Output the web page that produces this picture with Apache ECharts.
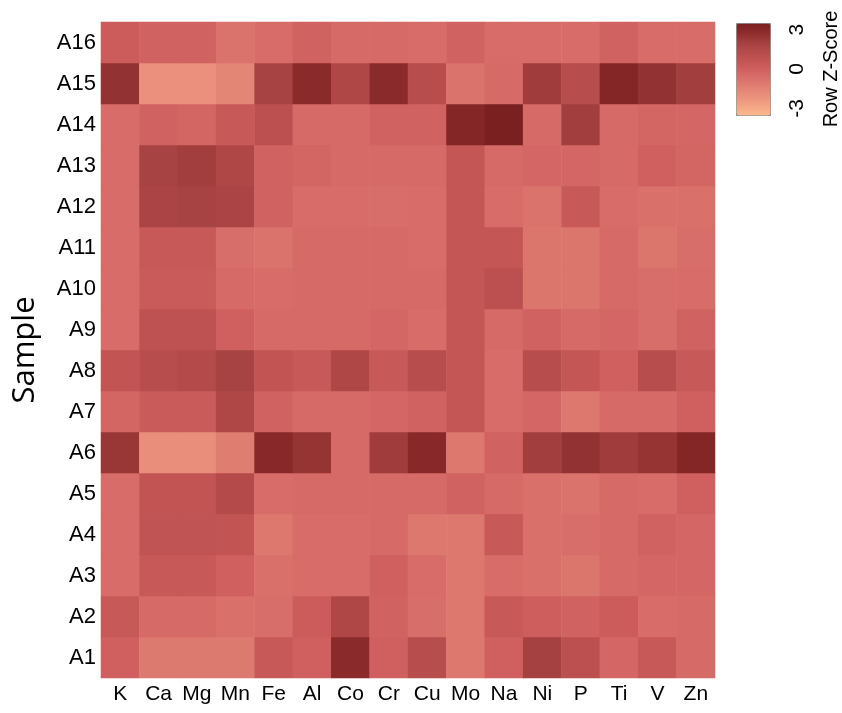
<!DOCTYPE html>
<html><head><meta charset="utf-8">
<script src="https://cdn.jsdelivr.net/npm/echarts@6/dist/echarts.min.js"></script>
<style>html,body{margin:0;padding:0;background:#fff}#c{width:842px;height:713px}</style>
</head><body><div id="c"></div>
<script>
const elements = ['K','Ca','Mg','Mn','Fe','Al','Co','Cr','Cu','Mo','Na','Ni','P','Ti','V','Zn'];
const samples = ['A1','A2','A3','A4','A5','A6','A7','A8','A9','A10','A11','A12','A13','A14','A15','A16'];
const zA1  = [0.0,-1.1,-1.1,-1.1,0.4,0.0,2.9,0.0,1.2,-1.0,0.0,2.0,1.0,-0.3,0.4,-0.4];
const zA2  = [0.4,-0.4,-0.4,-0.7,-0.6,0.2,1.6,-0.1,-0.6,-1.0,0.4,0.1,-0.1,0.2,-0.5,-0.4];
const zA3  = [-0.5,0.4,0.4,0.0,-0.7,-0.5,-0.5,0.0,-0.5,-1.0,-0.5,-0.7,-0.9,-0.4,-0.3,-0.3];
const zA4  = [-0.5,0.8,0.8,0.7,-1.0,-0.5,-0.5,-0.4,-1.0,-1.0,0.4,-0.7,-0.6,-0.4,-0.1,-0.3];
const zA5  = [-0.5,0.7,0.7,1.4,-0.5,-0.4,-0.4,-0.4,-0.4,-0.1,-0.4,-0.7,-0.8,-0.4,-0.5,0.0];
const zA6  = [2.4,-1.9,-1.9,-1.2,3.0,2.5,-0.4,2.2,3.0,-1.0,-0.1,2.1,2.6,2.2,2.5,3.1];
const zA7  = [-0.2,0.3,0.3,1.6,-0.1,-0.4,-0.4,-0.3,-0.1,0.6,-0.5,-0.3,-1.0,-0.4,-0.4,0.0];
const zA8  = [0.7,1.2,1.4,1.9,0.7,0.4,1.6,0.4,1.2,0.6,-0.5,1.2,0.6,0.0,1.2,0.4];
const zA9  = [-0.5,0.9,0.9,0.0,-0.4,-0.4,-0.4,-0.3,-0.5,0.6,-0.4,-0.1,-0.4,-0.3,-0.6,-0.1];
const zA10 = [-0.5,0.3,0.3,-0.4,-0.5,-0.4,-0.4,-0.4,-0.4,0.6,1.0,-0.9,-0.9,-0.4,-0.6,-0.5];
const zA11 = [-0.5,0.4,0.4,-0.6,-0.8,-0.4,-0.4,-0.4,-0.5,0.6,0.6,-0.9,-0.9,-0.4,-0.9,-0.6];
const zA12 = [-0.5,1.8,1.9,1.8,-0.1,-0.5,-0.5,-0.6,-0.5,0.6,-0.5,-0.8,0.4,-0.5,-0.7,-0.7];
const zA13 = [-0.5,1.9,2.1,1.6,-0.1,-0.2,-0.4,-0.4,-0.4,0.6,-0.4,-0.3,-0.3,-0.4,0.0,-0.2];
const zA14 = [-0.5,-0.1,-0.2,0.4,1.0,-0.4,-0.4,-0.1,-0.1,3.1,3.5,-0.4,2.1,-0.4,-0.2,-0.3];
const zA15 = [2.6,-2.0,-2.0,-1.6,1.9,2.9,1.6,2.9,1.2,-0.8,-0.4,2.2,1.2,3.1,2.6,2.1];
const zA16 = [0.2,-0.1,-0.1,-0.8,-0.5,-0.1,-0.4,-0.4,-0.5,-0.1,-0.5,-0.5,-0.5,-0.1,-0.5,-0.5];
const legendTicks = [-3,-2,-1,0,1,2,3];
const legendLabels = [-3,0,3];

const rowsZ = [zA1,zA2,zA3,zA4,zA5,zA6,zA7,zA8,zA9,zA10,zA11,zA12,zA13,zA14,zA15,zA16];
const data = [];
rowsZ.forEach((row, r) => row.forEach((v, c) => data.push([c, r, v])));

const palette = ['#fcb990','#f6aa87','#f09c81','#ea907c','#e38475','#dc786e','#d76c68','#d06060',
  '#c65757','#bc5050','#b24949','#a64141','#963434','#882828','#7a2020'];

const chart = echarts.init(document.getElementById('c'), null, {renderer:'canvas'});
const font = 'Liberation Sans, Arial, sans-serif';
chart.setOption({
  animation: false,
  backgroundColor: '#fff',
  grid: [
    {left: 101, top: 22, width: 614, height: 656},
    {left: 736, top: 23 + 92/14, width: 34, height: 92*6/7}
  ],
  xAxis: [
    {type:'category', data: elements, gridIndex:0, position:'bottom',
     axisLine:{show:false}, axisTick:{show:false}, splitArea:{show:false},
     axisLabel:{fontFamily:font, fontSize:21, color:'#000', margin:6}},
    {type:'value', gridIndex:1, show:false, min:0, max:1}
  ],
  yAxis: [
    {type:'category', data: samples, gridIndex:0,
     axisLine:{show:false}, axisTick:{show:false},
     axisLabel:{fontFamily:font, fontSize:22, color:'#000', margin:5},
     name:'Sample', nameLocation:'middle', nameRotate:90, nameGap:60,
     nameTextStyle:{fontFamily:'Open Sans, sans-serif', fontSize:31, color:'#000'}},
    {type:'value', gridIndex:1, position:'right', min:-3, max:3, interval:1,
     axisLine:{show:false}, splitLine:{show:false},
     axisTick:{show:true, length:8, lineStyle:{color:'#444', width:1}},
     axisLabel:{fontFamily:font, fontSize:21, color:'#000', rotate:90, margin:18,
       formatter: v => legendLabels.includes(v) ? String(v) : ''},
     name:'Row Z-Score', nameLocation:'middle', nameRotate:90, nameGap:52,
     nameTextStyle:{fontFamily:font, fontSize:20, color:'#000'}}
  ],
  visualMap: {
    type:'continuous', min:-3.5, max:3.5, dimension:2, seriesIndex:0,
    left:736, top:23, itemWidth:34, itemHeight:92, padding:0,
    text:null, calculable:false, hoverLink:false, realtime:false,
    borderColor:'#888', borderWidth:1,
    inRange:{color: palette}
  },
  series: [{
    type:'heatmap', xAxisIndex:0, yAxisIndex:0, data: data,
    itemStyle:{borderWidth:0}, emphasis:{disabled:true}
  }]
});
</script></body></html>
